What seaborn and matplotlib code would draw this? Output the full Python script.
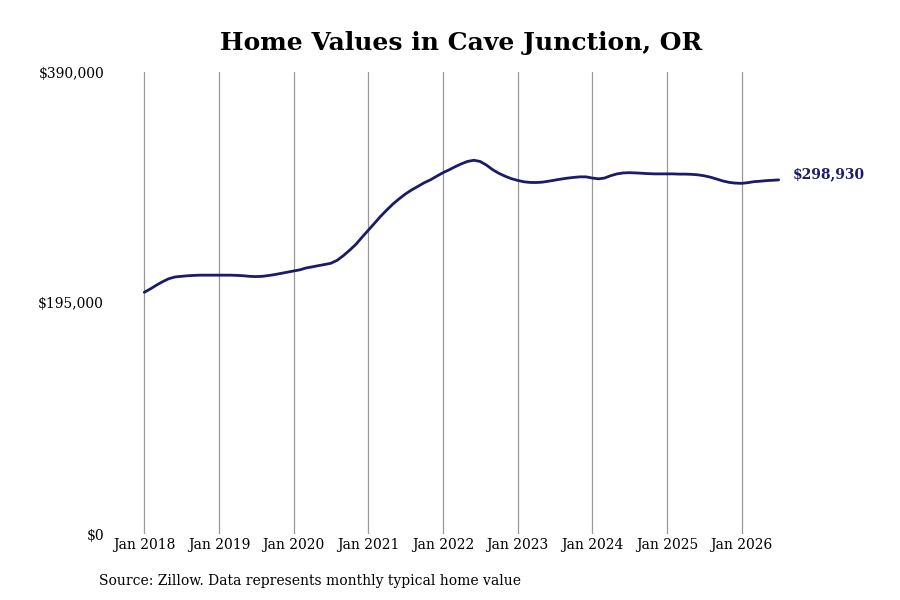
import matplotlib
matplotlib.use("Agg")
import matplotlib.pyplot as plt
import matplotlib.dates as mdates
import matplotlib.ticker as mticker
import numpy as np
import pandas as pd
import seaborn as sns

# monthly typical home value, Jan 2018 .. Jul 2026 (in $)
start_month = "2018-01-01"
values_k = [
    # 2018
    204.0, 207.0, 210.0, 213.0, 215.5, 217.0, 217.5, 218.0, 218.3, 218.5, 218.5, 218.5,
    # 2019
    218.5, 218.5, 218.5, 218.3, 218.0, 217.5, 217.3, 217.5, 218.2, 219.0, 220.0, 221.0,
    # 2020
    222.0, 223.0, 224.5, 225.5, 226.5, 227.5, 228.5, 231.0, 235.0, 239.5, 244.5, 250.5,
    # 2021
    256.5, 262.5, 268.0, 273.5, 278.5, 283.0, 287.0, 290.5, 293.5, 296.5, 299.0, 302.0,
    # 2022
    305.0, 307.5, 310.0, 312.5, 314.5, 315.5, 314.5, 311.5, 307.5, 304.5, 302.0, 300.0,
    # 2023
    298.5, 297.3, 296.8, 296.7, 297.0, 297.8, 298.7, 299.6, 300.4, 301.0, 301.5, 301.5,
    # 2024
    300.5, 299.8, 300.5, 302.5, 304.0, 304.8, 305.0, 304.8, 304.5, 304.2, 304.0, 304.0,
    # 2025
    304.0, 304.0, 303.8, 303.8, 303.6, 303.2, 302.4, 301.2, 299.6, 298.0, 296.8, 296.2,
    # 2026
    296.0, 296.6, 297.4, 297.8, 298.3, 298.6, 298.93,
]
year_ticks = list(range(2018, 2027))
y_ticks = [0, 195000, 390000]

df = pd.DataFrame({
    "date": pd.date_range(start_month, periods=len(values_k), freq="MS"),
    "value": np.array(values_k) * 1000,
})

sns.set_style("white")
plt.rcParams["font.family"] = ["DejaVu Serif"]
plt.rcParams["text.color"] = "black"
plt.rcParams["xtick.color"] = "black"
plt.rcParams["ytick.color"] = "black"

navy = "#1b1a6b"
fig = plt.figure(figsize=(9, 6), dpi=100)
ax = fig.add_axes([0.128, 0.11, 0.75, 0.77])

sns.lineplot(data=df, x="date", y="value", color=navy, linewidth=2, ax=ax)

ax.set_ylim(0, 390000)
ax.set_xlim(pd.Timestamp("2017-08-12"), pd.Timestamp("2026-08-26"))
ax.set_yticks(y_ticks)
ax.yaxis.set_major_formatter(mticker.FuncFormatter(lambda v, p: f"${v:,.0f}"))
ax.set_xticks([pd.Timestamp(f"{y}-01-01") for y in year_ticks])
ax.xaxis.set_major_formatter(mdates.DateFormatter("Jan %Y"))
ax.grid(axis="x", color="#999999", linewidth=0.9)
ax.grid(axis="y", visible=False)
for s in ax.spines.values():
    s.set_visible(False)
ax.tick_params(axis="both", length=0, labelsize=10, labelcolor="black")
ax.tick_params(axis="y", pad=8)
ax.tick_params(axis="x", pad=3)
ax.set_xlabel("")
ax.set_ylabel("")

last = df.iloc[-1]
ax.annotate(f"${last['value']:,.0f}", (last["date"], last["value"]),
            xytext=(10, 4), textcoords="offset points", va="center", ha="left",
            fontsize=10, fontweight="bold", color=navy)

fig.text(0.512, 0.928, "Home Values in Cave Junction, OR", ha="center", va="center",
         fontsize=18, fontweight="bold", color="black")
fig.text(0.11, 0.032, "Source: Zillow. Data represents monthly typical home value",
         ha="left", va="center", fontsize=10, color="black")

fig.savefig("out.png", dpi=100)
